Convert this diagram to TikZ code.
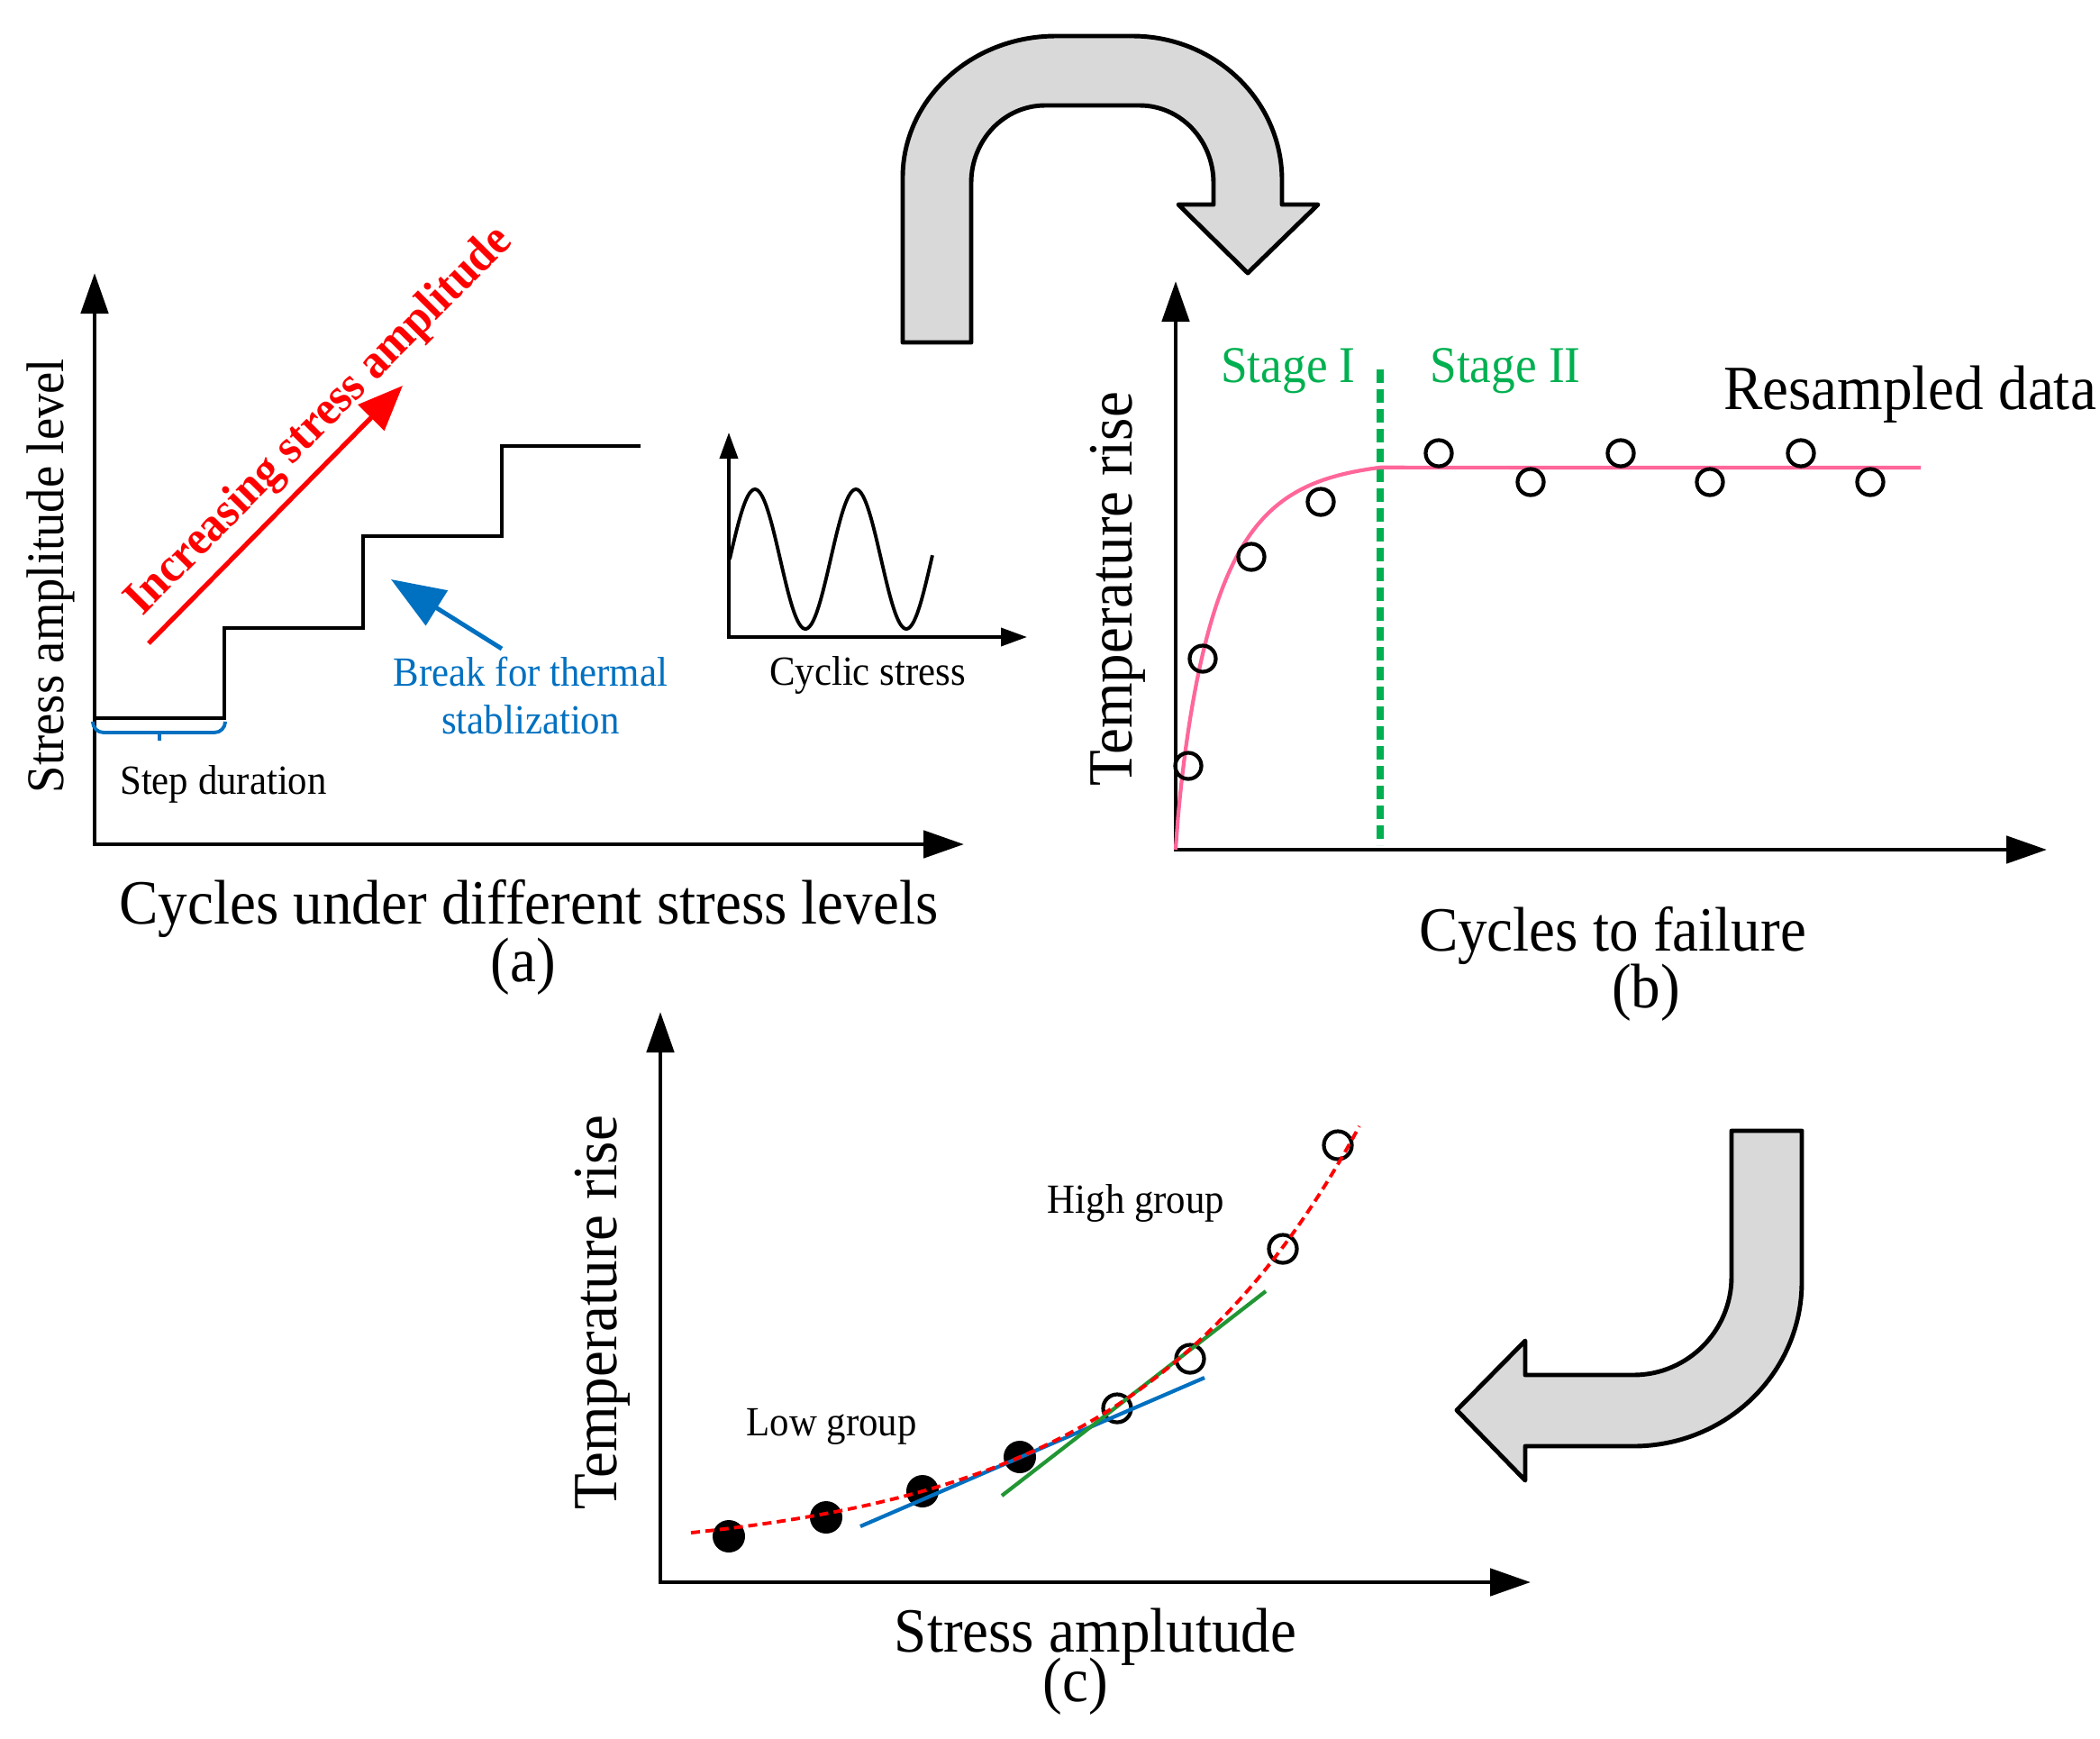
\documentclass[tikz,border=0pt]{standalone}
\usepackage{fontspec}
\setmainfont{Liberation Serif}[FakeStretch = 0.93]
\usetikzlibrary{arrows.meta}
\usetikzlibrary{calc}

\definecolor{bendgray}{RGB}{217,217,217}
\definecolor{stagegreen}{RGB}{0,176,80}
\definecolor{breakblue}{RGB}{0,112,192}
\definecolor{fitpink}{RGB}{255,102,153}
\definecolor{fitgreen}{RGB}{34,150,52}

\tikzset{
  axis/.style = {line width = 1.4pt,
    {Triangle[length = 4.5mm, width = 3mm]}-{Triangle[length = 4.5mm, width = 3mm]}},
  miniaxis/.style = {line width = 1.1pt,
    {Triangle[length = 2.9mm, width = 2mm]}-{Triangle[length = 2.9mm, width = 2mm]}},
  bigfont/.style = {font = \fontsize{19.9}{22}\selectfont},
  smallfont/.style = {font = \fontsize{13.1}{14.8}\selectfont},
  stagefont/.style = {font = \fontsize{16.3}{18}\selectfont, text = stagegreen},
  opendot/.style = {circle, draw, line width = 1.2pt, minimum size = 2.9mm, inner sep = 0pt},
  fulldot/.style = {circle, fill, minimum size = 3.6mm, inner sep = 0pt},
  bendarrow/.style = {draw, fill = bendgray, line width = 1.4pt, line join = round}
}

\begin{document}
\begin{tikzpicture}
  \useasboundingbox (0, 0) rectangle (23.31, -19.30);

  % (a)
  \coordinate (aO) at (1.05, -9.37);
  \draw[axis] (1.05, -3.03) -- (aO) -- (10.70, -9.37);
  \draw[line width = 1.4pt] (1.05, -7.97) -- (2.49, -7.97) |- (4.03, -6.97) |- (5.57, -5.95)
  |- (7.11, -4.95);
  \draw[breakblue, line width = 1.1pt, rounded corners = 1.2mm]
  (1.03, -8.03) |- (2.50, -8.13) -- (2.50, -8.03);
  \draw[breakblue, line width = 1.1pt] (1.77, -8.13) -- (1.77, -8.22);
  \node[smallfont] (dur) at (2.48, -8.70) {Step duration};

  \coordinate (rTail) at (1.65, -7.14);
  \coordinate (rTip) at (4.47, -4.28);
  \draw[red, line width = 1.5pt, -{Triangle[length = 5mm, width = 4mm]}] (rTail) -- (rTip);
  \node[red, rotate = 45.2, font = \fontsize{15.3}{17}\selectfont\bfseries] (incr)
  at (3.55, -4.68) {Increasing stress amplitude};

  \coordinate (bTail) at (5.57, -7.20);
  \coordinate (bTip) at (4.34, -6.43);
  \draw[breakblue, line width = 1.4pt, -{Triangle[length = 6mm, width = 4.5mm]}] (bTail) -- (bTip);
  \node[smallfont, text = breakblue, align = center] (brk) at (5.89, -7.72)
  {Break for thermal\\stablization};

  \coordinate (mO) at (8.09, -7.07);
  \draw[miniaxis] (8.09, -4.80) -- (mO) -- (11.40, -7.07);
  \draw[line width = 1.1pt] plot[domain = 8.10:10.35, samples = 120, smooth]
  ({\x}, {-6.205 + 0.775*sin((\x - 8.10)/1.12*360)});
  \node[smallfont] (cyc) at (9.63, -7.49) {Cyclic stress};

  \node[rotate = 90, font = \fontsize{16.7}{18}\selectfont] (aYl) at (0.56, -6.39)
  {Stress amplitude level};
  \node[bigfont] (aXl) at (5.87, -10.08) {Cycles under different stress levels};
  \node[bigfont] (aTag) at (5.81, -10.73) {(a)};

  % bent arrows
  \draw[bendarrow] (10.02, -3.80) -- (10.02, -1.97)
  arc[start angle = 180, end angle = 90, x radius = 1.70, y radius = 1.57] -- (12.57, -0.40)
  arc[start angle = 90, end angle = 0, x radius = 1.66, y radius = 1.60] -- (14.23, -2.27)
  -- (14.63, -2.27) -- (13.85, -3.03) -- (13.08, -2.27) -- (13.47, -2.27) -- (13.47, -2.03)
  arc[start angle = 0, end angle = 90, x radius = 0.82, y radius = 0.86] -- (11.60, -1.17)
  arc[start angle = 90, end angle = 180, x radius = 0.82, y radius = 0.86] -- (10.78, -3.80)
  -- cycle;
  \draw[bendarrow] (20.00, -12.55) -- (20.00, -14.23)
  arc[start angle = 0, end angle = -90, x radius = 1.87, y radius = 1.82] -- (16.93, -16.05)
  -- (16.93, -16.43) -- (16.17, -15.65) -- (16.93, -14.88) -- (16.93, -15.26) -- (18.13, -15.26)
  arc[start angle = -90, end angle = 0, x radius = 1.09, y radius = 1.09] -- (19.22, -12.55)
  -- cycle;

  % (b)
  \coordinate (bO) at (13.05, -9.43);
  \draw[axis] (13.05, -3.12) -- (bO) -- (22.72, -9.43);
  \draw[stagegreen, line width = 2pt, dash pattern = on 1.5mm off 0.7mm]
  (15.32, -4.10) -- (15.32, -9.38);
  \draw[fitpink, line width = 1.2pt] (bO) -- plot[domain = 0.002:2.27, samples = 100]
  ({13.05 + \x}, {-9.43 + 4.33*(1 - exp(-pow(\x/0.459, 0.85)))}) -- (21.32, -5.19);
  \foreach \px/\py [count = \i] in {13.19/-8.50, 13.35/-7.31, 13.89/-6.18, 14.66/-5.57,
    15.97/-5.03, 16.99/-5.35, 17.99/-5.03, 18.98/-5.35, 19.99/-5.03, 20.76/-5.35}
    \node[opendot] (bp\i) at (\px, \py) {};
  \node[stagefont] (st1) at (14.30, -4.12) {Stage I};
  \node[stagefont] (st2) at (16.71, -4.12) {Stage II};
  \node[bigfont] (res) at (21.20, -4.38) {Resampled data};
  \node[bigfont, rotate = 90] (bYl) at (12.41, -6.54) {Temperature rise};
  \node[bigfont] (bXl) at (17.90, -10.38) {Cycles to failure};
  \node[bigfont] (bTag) at (18.27, -11.02) {(b)};

  % (c)
  \coordinate (cO) at (7.33, -17.56);
  \draw[axis] (7.33, -11.23) -- (cO) -- (16.99, -17.56);
  \foreach \px/\py [count = \i] in {8.09/-17.05, 9.17/-16.84, 10.24/-16.55, 11.32/-16.17}
    \node[fulldot] (lo\i) at (\px, \py) {};
  \foreach \px/\py [count = \i] in {12.40/-15.63, 13.21/-15.08, 14.24/-13.86, 14.85/-12.71}
    \node[opendot, minimum size = 3.1mm] (hi\i) at (\px, \py) {};
  \draw[breakblue, line width = 1.2pt] (9.55, -16.94) -- (13.37, -15.29);
  \draw[fitgreen, line width = 1.2pt] (11.12, -16.60) -- (14.05, -14.33);
  \draw[red, line width = 1.1pt, dash pattern = on 1mm off 0.6mm]
  plot[domain = 7.67:15.09, samples = 100] ({\x}, {-17.28 + 0.73*exp((\x - 10.24)/2.58)});
  \node[smallfont] (low) at (9.23, -15.83) {Low group};
  \node[smallfont] (high) at (12.61, -13.35) {High group};
  \node[bigfont, rotate = 90] (cYl) at (6.69, -14.57) {Temperature rise};
  \node[bigfont] (cXl) at (12.16, -18.17) {Stress amplutude};
  \node[bigfont] (cTag) at (11.94, -18.72) {(c)};
\end{tikzpicture}
\end{document}
